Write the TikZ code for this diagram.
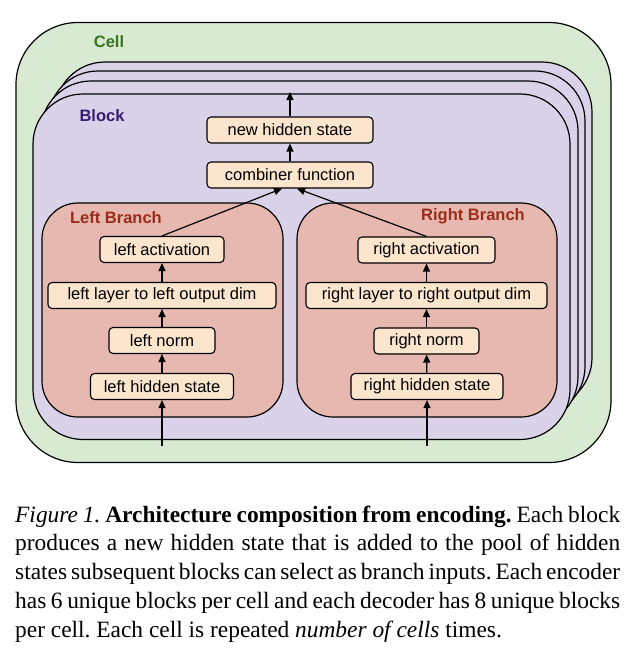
\documentclass[tikz,border=0pt]{standalone}
\usepackage{fontspec}
\setmainfont{Liberation Serif}
\newfontfamily\diagfont{Liberation Sans}
\usetikzlibrary{arrows.meta}
\definecolor{cellfill}{HTML}{D9EAD3}
\definecolor{blockfill}{HTML}{D9D2E9}
\definecolor{branchfill}{HTML}{E6B8AF}
\definecolor{opfill}{HTML}{FCE5CD}
\definecolor{celltext}{HTML}{38761D}
\definecolor{blocktext}{HTML}{351C75}
\definecolor{branchtext}{HTML}{9B2C1A}
\begin{document}
\begin{tikzpicture}[
        x=1pt, y=-1pt,
        font=\diagfont\fontsize{16.5}{19}\selectfont,
        cellbox/.style={draw, line width=1.2pt, fill=cellfill, rounded corners=62pt, minimum width=595pt, minimum height=440pt},
        blockbox/.style={draw, line width=1.2pt, fill=blockfill, rounded corners=50pt, minimum width=537pt, minimum height=345.5pt},
        branchbox/.style={draw, line width=1.2pt, fill=branchfill, rounded corners=36pt, minimum height=214pt},
        op/.style={draw, line width=1.1pt, fill=opfill, rounded corners=4pt, minimum height=26pt, inner sep=0pt},
        flow/.style={line width=1.2pt, -{Triangle[length=8pt,width=7pt]}},
        title/.style={font=\diagfont\bfseries\fontsize{16.5}{19}\selectfont},
        captext/.style={font=\rmfamily\fontsize{23.4}{28.8}\selectfont, inner sep=0pt}
    ]
        \useasboundingbox (0,0) rectangle (636,656);

        % containers
        \node[cellbox] (cell) at (313.5,242.5) {};
        \node[blockbox] (block3) at (323.5,234.75) {};
        \node[blockbox] (block2) at (316.5,243.75) {};
        \node[blockbox] (block1) at (309.5,253.75) {};
        \node[blockbox] (block) at (301.5,266.75) {};
        \node[branchbox, minimum width=241pt] (lbranch) at (162.5,310) {};
        \node[branchbox, minimum width=260pt] (rbranch) at (427,310) {};

        \node[title, text=celltext] (celllabel) at (109,42) {Cell};
        \node[title, text=blocktext] (blocklabel) at (102,116) {Block};
        \node[title, text=branchtext] (llabel) at (116,218) {Left Branch};
        \node[title, text=branchtext] (rlabel) at (473,216) {Right Branch};

        % operations
        \node[op, minimum width=166pt] (newstate) at (290,130) {new hidden state};
        \node[op, minimum width=166pt] (combiner) at (290,175) {combiner function};

        \node[op, minimum width=124pt] (lact) at (162,249.5) {left activation};
        \node[op, minimum width=228pt] (llayer) at (162,295.5) {left layer to left output dim};
        \node[op, minimum width=106pt] (lnorm) at (162,340.5) {left norm};
        \node[op, minimum width=143pt] (lhidden) at (162,386.5) {left hidden state};

        \node[op, minimum width=137pt] (ract) at (426.5,250) {right activation};
        \node[op, minimum width=241pt] (rlayer) at (426.5,295.5) {right layer to right output dim};
        \node[op, minimum width=105pt] (rnorm) at (426.5,341) {right norm};
        \node[op, minimum width=152pt] (rhidden) at (427,386.5) {right hidden state};

        \coordinate (lin) at (162,446);
        \coordinate (rin) at (427,446);
        \coordinate (out) at (290,92);

        \draw[flow] (lin) -- (lhidden);
        \draw[flow] (lhidden) -- (lnorm);
        \draw[flow] (lnorm) -- (llayer);
        \draw[flow] (llayer) -- (lact);
        \draw[flow] (rin) -- (rhidden);
        \draw[flow] (rhidden) -- (rnorm);
        \draw[flow] (rnorm) -- (rlayer);
        \draw[flow] (rlayer) -- (ract);
        \draw[flow] (lact.north) -- ([xshift=-8pt]combiner.south);
        \draw[flow] (ract.north) -- ([xshift=7pt]combiner.south);
        \draw[flow] (combiner) -- (newstate);
        \draw[flow] (newstate) -- (out);

        % caption
        \node[captext, anchor=base west] (caption) at (15,522) {\frenchspacing\vtop{\baselineskip=28.8pt
            \hbox to 605pt{\textit{Figure 1.} \textbf{Architecture composition from encoding.} Each block}
            \hbox to 605pt{produces a new hidden state that is added to the pool of hidden}
            \hbox to 605pt{states subsequent blocks can select as branch inputs. Each encoder}
            \hbox to 605pt{has 6 unique blocks per cell and each decoder has 8 unique blocks}
            \hbox to 605pt{per cell. Each cell is repeated \textit{number of cells} times.\hfil}}};
    \end{tikzpicture}
\end{document}
